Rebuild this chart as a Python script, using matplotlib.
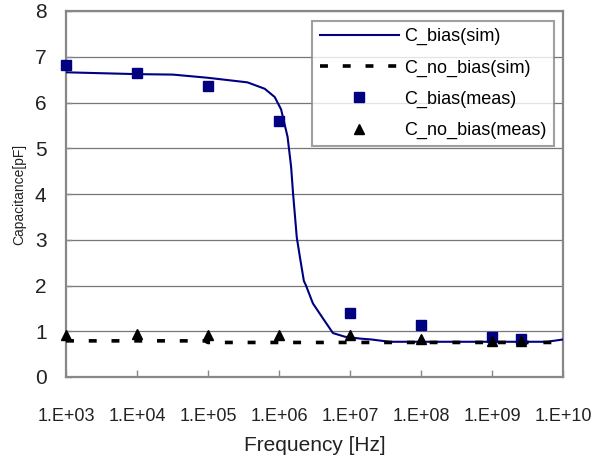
import matplotlib
matplotlib.use("Agg")
import matplotlib.pyplot as plt
from matplotlib.ticker import FixedLocator, FixedFormatter, NullLocator

plt.rcParams['font.family'] = ['Liberation Sans', 'DejaVu Sans']

# Simulated C_bias curve (frequency Hz, capacitance pF)
sim_bias_f = [1e3, 1e4, 3.2e4, 1e5, 3.6e5, 6.3e5, 8.7e5, 1.07e6, 1.32e6, 1.48e6,
              1.58e6, 1.78e6, 2.0e6, 2.24e6, 2.4e6, 3.0e6, 4.0e6, 5.75e6, 8.5e6,
              1.38e7, 2.0e7, 3.6e7, 5.9e9, 1e10]
sim_bias_c = [6.66, 6.62, 6.61, 6.54, 6.44, 6.30, 6.12, 5.85, 5.25, 4.6,
              4.0, 3.05, 2.56, 2.1, 2.0, 1.61, 1.32, 0.96, 0.88,
              0.84, 0.82, 0.77, 0.77, 0.82]

# Simulated C_no_bias
sim_nobias_f = [1e3, 1e4, 9e4, 1e5, 1e10]
sim_nobias_c = [0.79, 0.79, 0.79, 0.755, 0.755]

# Measured points
meas_f = [1e3, 1e4, 1e5, 1e6, 1e7, 1e8, 1e9, 2.6e9]
meas_bias_c = [6.82, 6.65, 6.35, 5.60, 1.39, 1.13, 0.88, 0.83]
meas_nobias_c = [0.92, 0.93, 0.92, 0.92, 0.91, 0.82, 0.79, 0.79]

xticks = [1e3, 1e4, 1e5, 1e6, 1e7, 1e8, 1e9, 1e10]
xtick_labels = ['1.E+03', '1.E+04', '1.E+05', '1.E+06', '1.E+07', '1.E+08', '1.E+09', '1.E+10']
yticks = [0, 1, 2, 3, 4, 5, 6, 7, 8]

fig = plt.figure(figsize=(5.94, 4.57), dpi=100)
ax = fig.add_axes([66/594, 80/457, (563-66)/594, (377-11)/457])

navy = '#000080'
ax.plot(sim_bias_f, sim_bias_c, color=navy, lw=1.5, label='C_bias(sim)', zorder=3)
ax.plot(sim_nobias_f, sim_nobias_c, color='black', lw=2.6, ls=(0, (2.2, 4.1)),
        label='C_no_bias(sim)', zorder=4)
ax.plot(meas_f, meas_bias_c, ls='none', marker='s', ms=7, color=navy,
        label='C_bias(meas)', zorder=5, clip_on=False)
ax.plot(meas_f, meas_nobias_c, ls='none', marker='^', ms=7, color='black',
        label='C_no_bias(meas)', zorder=6, clip_on=False)

ax.set_xscale('log')
ax.set_xlim(1e3, 1e10)
ax.set_ylim(0, 8)
ax.xaxis.set_major_locator(FixedLocator(xticks))
ax.xaxis.set_major_formatter(FixedFormatter(xtick_labels))
ax.xaxis.set_minor_locator(NullLocator())
ax.set_yticks(yticks)

ax.yaxis.grid(True, color='#777777', lw=0.9)
ax.set_axisbelow(True)
for s in ax.spines.values():
    s.set_color('#888888')
    s.set_linewidth(1.6)

ax.tick_params(axis='x', direction='in', length=5, color='#888888', width=1,
               labelsize=13, pad=22, labelcolor='#222222')
ax.tick_params(axis='y', direction='in', length=4, color='#888888', width=1,
               labelsize=15, pad=14, labelcolor='#222222')

ax.set_xlabel('Frequency [Hz]', fontsize=15, color='#222222', labelpad=8)
ax.set_ylabel('Capacitance[pF]', fontsize=10, color='#222222', labelpad=6)

leg = ax.legend(loc='upper right', bbox_to_anchor=(554/594, 1 - 21/457),
                bbox_transform=fig.transFigure, fontsize=13, frameon=True,
                fancybox=False, edgecolor='#888888', handlelength=4.4,
                handletextpad=0.3, labelspacing=0.78, borderpad=0.4,
                borderaxespad=0)
leg.get_frame().set_linewidth(1.5)

fig.savefig('out.png', dpi=100)
